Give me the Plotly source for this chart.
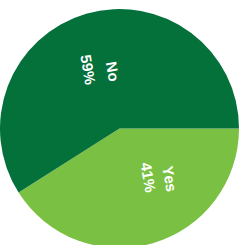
import math
import plotly.graph_objects as go

labels = ["Yes", "No"]
values = [41, 59]
colors = ["#7AC143", "#04703A"]

# label placement (polar, relative to pie centre): angle in degrees, radius in px
label_pos = {"Yes": [(-45.0, 71), (-59.6, 57)], "No": [(97.1, 57), (117.5, 67)]}
TEXT_ANGLE = 80

W, H = 243, 248
M = dict(l=0, r=4, t=9, b=0)
area = W - M["l"] - M["r"]  # 239 square plot area

fig = go.Figure(go.Pie(
    labels=labels,
    values=values,
    marker=dict(colors=colors, line=dict(width=0)),
    sort=False,
    direction="clockwise",
    rotation=90,
    textinfo="none",
    showlegend=False,
    hoverinfo="skip",
))

total = sum(values)
annotations = []
for lab, val in zip(labels, values):
    lines = [f"<b>{lab}</b>", f"<b>{round(val / total * 100)}%</b>"]
    for txt, (ang, r) in zip(lines, label_pos[lab]):
        a = math.radians(ang)
        annotations.append(dict(
            x=0.5 + r * math.cos(a) / area,
            y=0.5 + r * math.sin(a) / area,
            xref="paper", yref="paper",
            text=txt, showarrow=False, textangle=TEXT_ANGLE,
            xanchor="center", yanchor="middle",
            font=dict(family="Liberation Sans", size=15, color="white"),
        ))

fig.update_layout(
    width=W, height=H,
    margin=M,
    paper_bgcolor="white",
    plot_bgcolor="white",
    annotations=annotations,
)
fig.write_html(
    "out.html",
    config={"displayModeBar": False},
    post_script="document.body.style.margin='0';document.body.style.overflow='hidden';",
)
